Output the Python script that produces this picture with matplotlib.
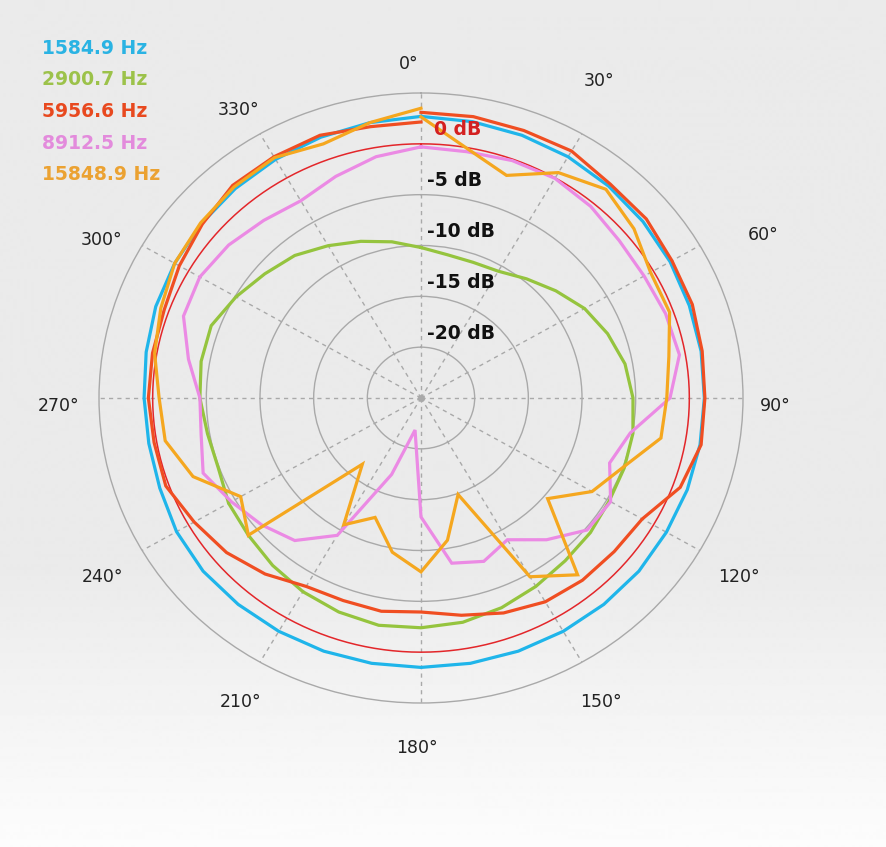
import numpy as np
import matplotlib.pyplot as plt

# Directivity measured every 10 degrees (0..360), levels in dB
angles_deg = np.arange(0, 361, 10)

freq_labels = ["1584.9 Hz", "2900.7 Hz", "5956.6 Hz", "8912.5 Hz", "15848.9 Hz"]
colors = ["#1fb5ea", "#95c43e", "#f04e22", "#eb8ae4", "#f5a71f"]
label_colors = ["#2ab3e3", "#9cc24a", "#e8491f", "#e38bdc", "#eba232"]

db_1585 = [2.7, 2.6, 2.5, 2.4, 2.2, 2.0, 1.8, 1.6, 1.5, 1.4, 1.4, 1.4, 1.4,
           1.5, 1.5, 1.5, 1.5, 1.5, 1.5, 1.5, 1.5, 1.5, 1.5, 1.5, 1.3, 0.9,
           0.75, 0.8, 1.0, 1.3, 1.5, 1.7, 1.9, 2.1, 2.3, 2.5, 2.7]
db_2901 = [-10.2, -10.7, -10.8, -10.6, -9.7, -8.6, -7.4, -6.5, -5.7, -5.25,
           -4.95, -4.85, -4.75, -4.4, -4.1, -3.6, -3.05, -2.6, -2.4, -2.3,
           -2.6, -3.0, -3.5, -4.0, -4.3, -4.9, -4.8, -4.4, -4.2, -4.2, -5.1,
           -6.0, -6.7, -7.7, -8.6, -9.4, -10.2]
db_5957 = [3.1, 3.1, 3.0, 3.05, 2.45, 2.4, 2.0, 1.9, 1.6, 1.45, 1.5, 0.7,
           -1.2, -1.5, -1.6, -1.85, -2.5, -3.3, -3.95, -3.7, -3.8, -3.6, -2.4,
           -1.35, -0.6, 0.3, 0.25, 0.4, 0.4, 0.45, 1.0, 1.6, 2.3, 2.4, 2.5,
           2.1, 2.15]
db_8913 = [-0.3, -0.4, -0.15, -0.05, -0.4, -0.9, -1.0, -0.75, -0.55, -1.8,
           -5.2, -6.3, -4.6, -4.8, -6.8, -8.9, -7.9, -8.5, -13.3, -21.8, -17.0,
           -9.4, -6.7, -5.6, -4.6, -3.4, -4.2, -4.4, -3.0, -1.45, -1.2, -1.6,
           -2.2, -2.6, -1.8, -0.9, -0.3]
db_15849 = [2.65, -0.1, -1.7, 0.6, 1.8, 0.9, -0.3, -0.35, -1.55, -2.1, -2.3,
            -5.0, -6.6, -9.6, -2.3, -4.7, -14.9, -10.8, -7.9, -9.6, -12.5,
            -10.6, -16.5, -4.0, -5.6, -2.4, -0.8, -0.6, 0.2, 0.8, 1.5, 1.8,
            2.1, 2.3, 1.6, 2.5, 3.5]

series = [db_1585, db_2901, db_5957, db_8913, db_15849]

ring_values = [-20, -15, -10, -5, 0]
r_min, r_max = -25, 5

# small per-label nudges (pixels) for the angle captions
angle_nudge = {0: (-12, 0), 30: (-2, 29), 60: (30, 0), 90: (-6, 0),
               120: (6, 0), 150: (0, 0), 180: (-4, 0), 210: (0, 0),
               240: (-6, 0), 270: (-2, 0), 300: (-7, -5), 330: (-2, 0)}

fig = plt.figure(figsize=(8.87, 8.47), dpi=100)

# light grey backdrop fading to white towards the bottom
bg = fig.add_axes([0, 0, 1, 1], zorder=-10)
shade = np.concatenate([np.full(560, 0.918), np.linspace(0.918, 0.99, 287)])
bg.imshow(shade[:, None], cmap="gray", vmin=0, vmax=1, aspect="auto",
          extent=[0, 1, 0, 1])
bg.axis("off")

ax = fig.add_axes([99 / 887, 144 / 847, 644 / 887, 610 / 847],
                  projection="polar")
ax.set_aspect("auto")
ax.patch.set_alpha(0)
ax.set_theta_zero_location("N")
ax.set_theta_direction(-1)
ax.set_ylim(r_min, r_max)

ax.set_yticks([-20, -15, -10, -5])
ax.set_yticklabels([])
ax.set_xticks(np.deg2rad(np.arange(0, 360, 30)))
ax.set_xticklabels([])
ax.tick_params(length=0)
ax.grid(True, axis="y", color="#a9a9a9", lw=1.0, ls="-")
ax.grid(True, axis="x", color="#a9a9a9", lw=1.0, ls=(0, (3, 3)))
ax.spines["polar"].set_color("#a9a9a9")
ax.spines["polar"].set_linewidth(1.0)

# 0 dB reference ring
full = np.linspace(0, 2 * np.pi, 361)
ax.plot(full, np.zeros_like(full), color="#e3262a", lw=1.1, zorder=2)

theta = np.deg2rad(angles_deg)
for vals, col in zip(series, colors):
    ax.plot(theta, vals, color=col, lw=2.3, zorder=3, solid_joinstyle="miter")

ax.plot(0, r_min, "o", ms=4, color="#a9a9a9", zorder=1)

# angle labels outside the outer ring
for a in range(0, 360, 30):
    nx, ny = angle_nudge[a]
    ax.annotate(f"{a}°", xy=(np.deg2rad(a), 8.6), xytext=(nx, ny - 8),
                textcoords="offset pixels", ha="center", va="center",
                fontsize=12.5, color="#222222", annotation_clip=False)

# dB labels along the 0° spoke
for v in ring_values:
    dx = 9 if v == 0 else 4
    ax.annotate(f"{v} dB", xy=(0, v), xytext=(dx, 10), textcoords="offset points",
                ha="left", va="center", fontsize=13.5, fontweight="bold",
                color="#d42020" if v == 0 else "#111111", zorder=5)

# frequency key in the top-left corner
for i, (lab, col) in enumerate(zip(freq_labels, label_colors)):
    fig.text(42 / 887, 1 - (48 + 31.7 * i) / 847, lab, ha="left", va="center",
             fontsize=13.5, fontweight="bold", color=col)

fig.savefig("out.png", dpi=100)
